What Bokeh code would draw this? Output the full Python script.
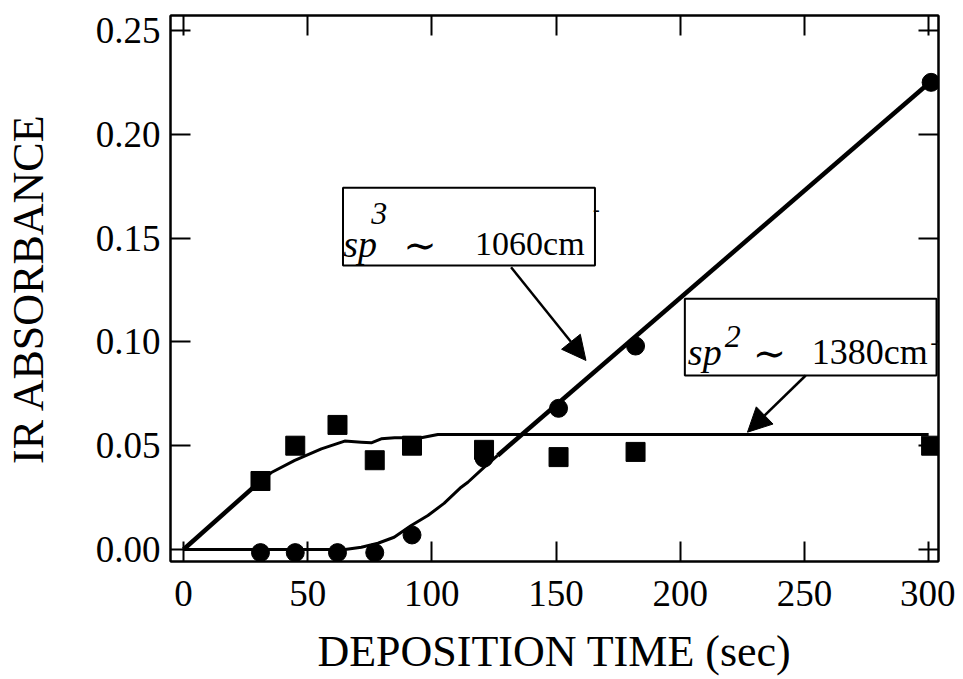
from bokeh.plotting import figure
from bokeh.models import Range1d, BoxAnnotation, Arrow, NormalHead, Label, LinearAxis, FixedTicker, NumeralTickFormatter
from bokeh.embed import file_html
from bokeh.resources import INLINE

# ---- data ----
time_s = [31, 45, 62, 77, 92, 121, 151, 182, 301]
sp3_abs = [-0.0015, -0.0015, -0.0015, -0.0015, 0.007, 0.044, 0.068, 0.098, 0.225]
sp2_abs = [0.033, 0.050, 0.060, 0.043, 0.050, 0.048, 0.0445, 0.047, 0.050]

# fitted curves
sp2_rise_t = [0, 31]
sp2_rise_a = [0, 0.033]
sp2_fit_t = [31, 35.4, 44.8, 55.5, 64.9, 71.6, 75.6, 79.6, 85, 95.7, 102.4, 300]
sp2_fit_a = [0.033, 0.0371, 0.0429, 0.0485, 0.0522, 0.0517, 0.0514, 0.0533, 0.0538, 0.0538, 0.0554, 0.0554]

sp3_fit_t = [0, 65, 71.6, 78.3, 84.8, 91.7, 98.4, 104.9, 111.8, 114.5, 121, 126.5]
sp3_fit_a = [0, 0, 0.0011, 0.003, 0.0059, 0.0116, 0.0164, 0.0222, 0.030, 0.0324, 0.0396, 0.0453]
sp3_lin_t = [126.5, 301]
sp3_lin_a = [0.0453, 0.2255]

x_ticks = [0, 50, 100, 150, 200, 250, 300]
y_ticks = [0.00, 0.05, 0.10, 0.15, 0.20, 0.25]

SERIF = "Liberation Serif"

p = figure(width=955, height=679,
           x_range=Range1d(-5.23, 303.97), y_range=Range1d(-0.00578, 0.2572),
           output_backend="svg", toolbar_location=None,
           min_border_left=169, min_border_right=17, min_border_top=15, min_border_bottom=118)
p.background_fill_color = "white"
p.border_fill_color = "white"
p.outline_line_color = "black"
p.outline_line_width = 2
p.xgrid.visible = False
p.ygrid.visible = False

def style_axis(ax, ticks, show_labels):
    ax.ticker = FixedTicker(ticks=ticks)
    ax.axis_line_color = "black"
    ax.axis_line_width = 2
    ax.major_tick_line_color = "black"
    ax.major_tick_line_width = 2
    ax.major_tick_in = 20
    ax.major_tick_out = 0
    ax.minor_tick_line_color = None
    ax.major_label_text_font = SERIF
    ax.axis_label_text_font = SERIF
    ax.axis_label_text_font_style = "normal"
    ax.axis_label_text_color = "black"
    if show_labels:
        ax.major_label_text_font_size = "37px"
        ax.major_label_text_color = "black"
    else:
        ax.major_label_text_font_size = "1px"
        ax.major_label_text_color = None
        ax.major_label_standoff = 0

xa = p.xaxis[0]
ya = p.yaxis[0]
style_axis(xa, x_ticks, True)
style_axis(ya, y_ticks, True)
ya.formatter = NumeralTickFormatter(format="0.00")
xa.axis_label = "DEPOSITION TIME (sec)"
ya.axis_label = "IR ABSORBANCE"
xa.axis_label_text_font_size = "44px"
ya.axis_label_text_font_size = "44px"
xa.major_label_standoff = 19
ya.major_label_standoff = 10
xa.axis_label_standoff = 18
ya.axis_label_standoff = 40

top = LinearAxis()
right = LinearAxis()
style_axis(top, x_ticks, False)
style_axis(right, y_ticks, False)
p.add_layout(top, "above")
p.add_layout(right, "right")

# curves
p.line(sp2_rise_t, sp2_rise_a, line_color="black", line_width=4.5)
p.line(sp2_fit_t, sp2_fit_a, line_color="black", line_width=3)
p.line(sp3_fit_t, sp3_fit_a, line_color="black", line_width=3)
p.line(sp3_lin_t, sp3_lin_a, line_color="black", line_width=4.5)

# markers
p.scatter(time_s, sp2_abs, marker="square", size=19, fill_color="black", line_color="black")
p.scatter(time_s, sp3_abs, marker="circle", size=18, fill_color="black", line_color="black")

def dx(px):
    return (px - 182) / 2.487

def dy(py):
    return (549 - py) / 2076

# annotation boxes
for (l, r, t, b) in [(341.7, 594, 187.3, 265), (684, 936, 298.3, 375)]:
    p.add_layout(BoxAnnotation(left=dx(l), right=dx(r), top=dy(t), bottom=dy(b),
                               fill_color="white", fill_alpha=1.0,
                               line_color="black", line_width=2, line_alpha=1.0))

# arrows
for (x0, y0, x1, y1) in [(510, 266.7, 585, 360), (805, 375, 746.7, 431.7)]:
    p.add_layout(Arrow(end=NormalHead(size=24, fill_color="black", line_color="black", line_width=1),
                       x_start=dx(x0), y_start=dy(y0), x_end=dx(x1), y_end=dy(y1),
                       line_color="black", line_width=2.5))

def lab(text, px, py, size, style="normal", font=SERIF):
    p.add_layout(Label(x=dx(px), y=dy(py), text=text, text_font=font,
                       text_font_size=size, text_font_style=style, text_color="black",
                       text_align="left", text_baseline="alphabetic"))

# box 1
lab("sp", 342, 243.3, "38px", "italic")
lab("3", 370, 213, "32px", "italic")
lab("\u223c", 402, 245, "40px", "normal", "DejaVu Serif")
lab("1060cm", 474, 243.3, "34px")
lab("-", 592, 209, "20px")
# box 2
lab("sp", 687, 351.7, "38px", "italic")
lab("2", 724, 336, "32px", "italic")
lab("\u223c", 752, 353, "40px", "normal", "DejaVu Serif")
lab("1380cm", 811, 351.7, "36px")
lab("-", 930, 342, "20px")

open("out.html", "w").write(file_html(p, INLINE))
